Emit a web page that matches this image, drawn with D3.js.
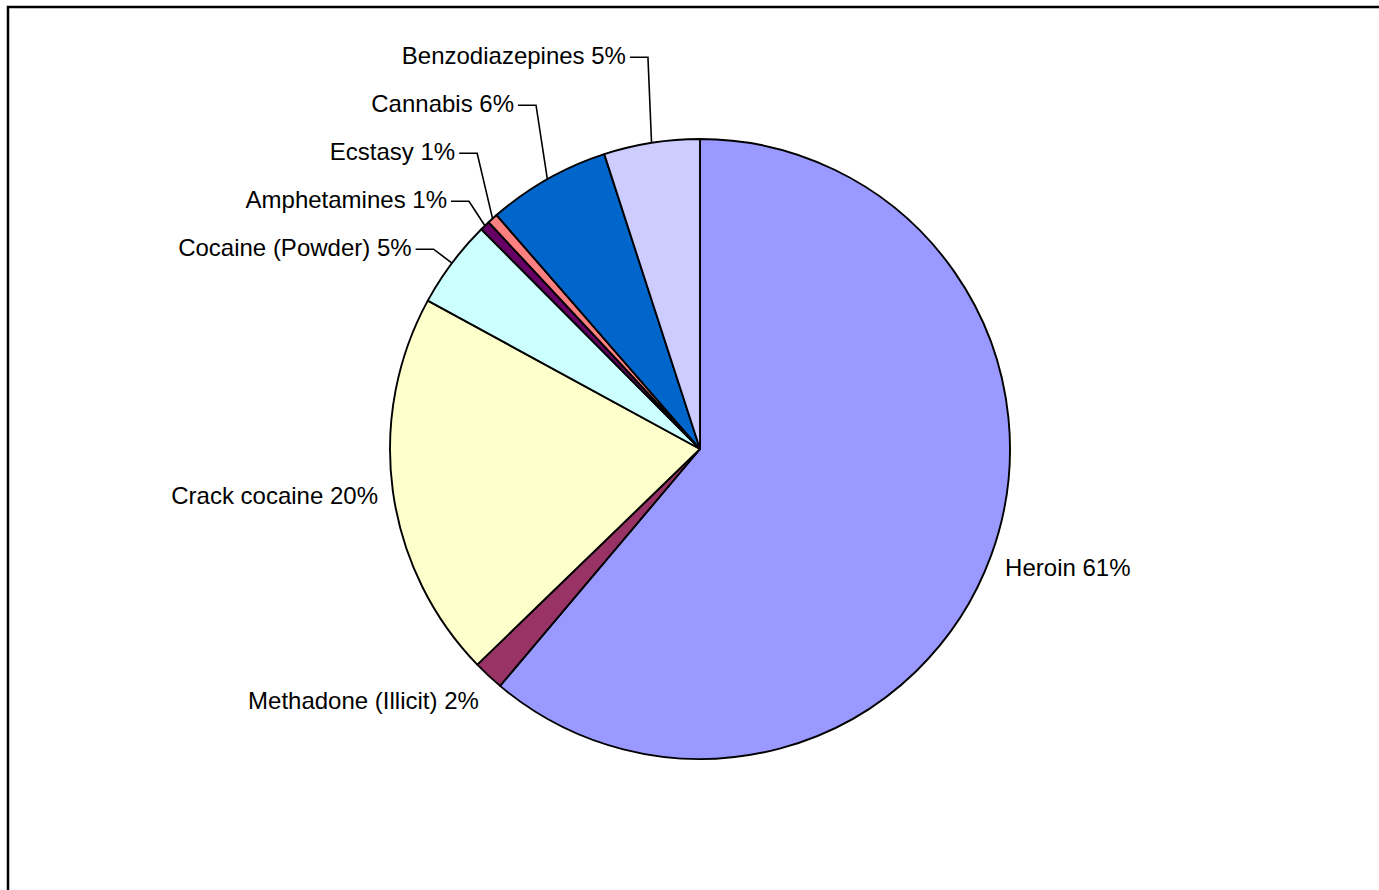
<!DOCTYPE html>
<html>
<head>
<meta charset="utf-8">
<script src="https://cdn.jsdelivr.net/npm/d3@7"></script>
<style>
  html, body { margin: 0; padding: 0; background: #fff; }
  svg { display: block; }
  text { font-family: "Liberation Sans", Arial, sans-serif; font-size: 24px; fill: #000; }
</style>
</head>
<body>
<svg id="chart" width="1379" height="890"></svg>
<script>
// Drug categories, clockwise from 12 o'clock
const categories = [
  "Heroin",
  "Methadone (Illicit)",
  "Crack cocaine",
  "Cocaine (Powder)",
  "Amphetamines",
  "Ecstasy",
  "Cannabis",
  "Benzodiazepines"
];
// Share of all cases (%)
const shares = [61.2, 1.6, 20.2, 4.6, 0.52, 0.55, 6.4, 5.0];
// Slice fills
const sliceColors = ["#9999FF", "#993366", "#FFFFCC", "#CCFFFF", "#660066", "#FF8080", "#0066CC", "#CCCCFF"];

const svg = d3.select("#chart");
const W = 1379, H = 890;
const cx = 700, cy = 449, radius = 310;

// Outer frame of the chart area
svg.append("rect")
  .attr("x", 8).attr("y", 7)
  .attr("width", W + 20).attr("height", H + 20)
  .attr("fill", "none").attr("stroke", "#000").attr("stroke-width", 2.5);

const total = d3.sum(shares);
const items = categories.map((name, i) => ({ name, value: shares[i], color: sliceColors[i] }));

const pie = d3.pie().value(d => d.value).sort(null).startAngle(0).endAngle(2 * Math.PI);
const arcs = pie(items);
const arcGen = d3.arc().innerRadius(0).outerRadius(radius);

const g = svg.append("g").attr("transform", `translate(${cx},${cy})`);

g.selectAll("path.slice")
  .data(arcs)
  .enter().append("path")
  .attr("class", "slice")
  .attr("d", arcGen)
  .attr("fill", d => d.data.color)
  .attr("stroke", "#000")
  .attr("stroke-width", 1.9)
  .attr("stroke-linejoin", "round");

// ---- Label layout ----
const pct = d => Math.round(d.value / total * 100);
const stackR = radius + 23;   // radius used for stacked (leader) labels
const plainR = radius + 17;   // radius used for labels sitting next to their slice
const spacing = 48;           // minimum vertical distance between stacked labels

const labels = arcs.map(a => {
  const mid = (a.startAngle + a.endAngle) / 2;
  const ux = Math.sin(mid), uy = -Math.cos(mid);
  return {
    text: `${a.data.name} ${pct(a.data)}%`,
    ux, uy,
    side: ux >= 0 ? "right" : "left",
    y: uy * stackR,
    leader: false
  };
});

// Find clusters of crowded labels on each side and stack them upward from the lowest one
["left", "right"].forEach(side => {
  const list = labels.filter(l => l.side === side).sort((a, b) => a.y - b.y);
  let cluster = [];
  const flush = () => {
    if (cluster.length > 1) {
      const bottom = cluster[cluster.length - 1];
      bottom.leader = true;
      let y = bottom.y;
      for (let k = cluster.length - 2; k >= 0; k--) {
        y -= spacing;
        cluster[k].y = Math.min(cluster[k].y, y);
        y = cluster[k].y;
        cluster[k].leader = true;
      }
    }
    cluster = [];
  };
  list.forEach((l, i) => {
    if (i > 0 && l.y - list[i - 1].y < spacing) {
      if (cluster.length === 0) cluster.push(list[i - 1]);
      cluster.push(l);
    } else {
      flush();
    }
  });
  flush();
});

labels.forEach(l => {
  const dir = l.side === "right" ? 1 : -1;
  const anchor = l.side === "right" ? "start" : "end";
  if (l.leader) {
    const ex = l.ux * stackR, ey = l.y;
    g.append("path")
      .attr("d", `M${l.ux * radius},${l.uy * radius}L${ex},${ey}L${ex + dir * 18},${ey}`)
      .attr("fill", "none").attr("stroke", "#000").attr("stroke-width", 1.6);
    g.append("text")
      .attr("x", ex + dir * 22).attr("y", ey + 7)
      .attr("text-anchor", anchor)
      .text(l.text);
  } else {
    const ax = l.ux * plainR, ay = l.uy * plainR;
    g.append("text")
      .attr("x", ax - dir * 2).attr("y", ay + l.uy * 16 + 11 - Math.abs(l.ux) * 2)
      .attr("text-anchor", anchor)
      .text(l.text);
  }
});
</script>
</body>
</html>
